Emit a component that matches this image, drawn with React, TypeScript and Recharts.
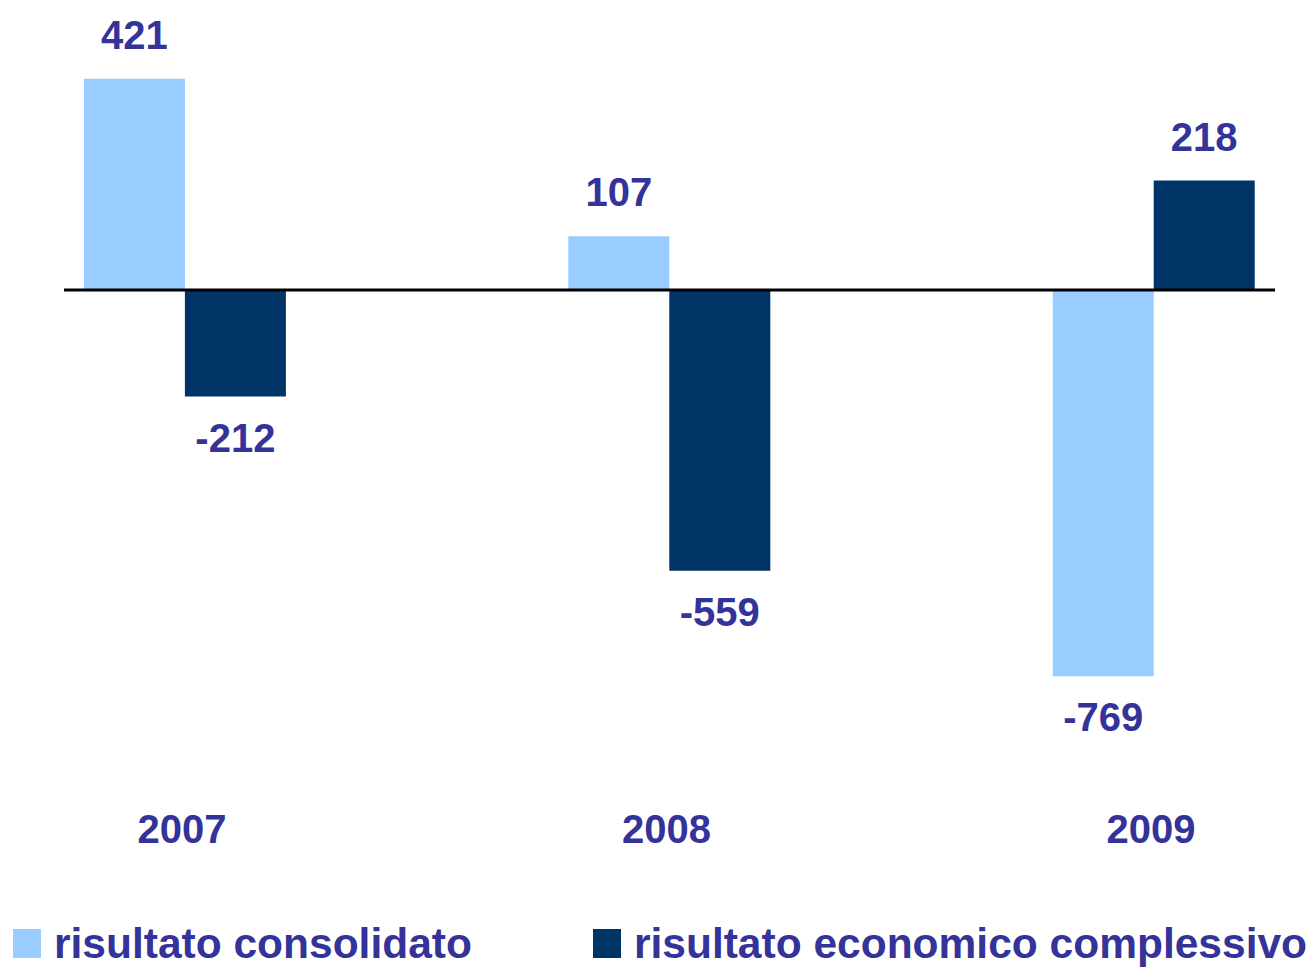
import { BarChart, Bar, XAxis, YAxis, ReferenceLine, LabelList, Legend } from 'recharts'

const years = ['2007', '2008', '2009']
const consolidato = [421, 107, -769]
const complessivo = [-212, -559, 218]
const seriesNames = ['risultato consolidato', 'risultato economico complessivo']

const data = years.map((year, i) => ({
  pos: i,
  year,
  consolidato: consolidato[i],
  complessivo: complessivo[i],
}))

const LIGHT = '#99CCFF'
const DARK = '#003366'
const TEXT = '#333399'
const FONT = '"Liberation Sans", Arial, sans-serif'

function ValueLabel(props: any) {
  const x = Number(props.x)
  const y = Number(props.y)
  const width = Number(props.width)
  const height = Number(props.height)
  const value = Number(props.value)
  const top = Math.min(y, y + height)
  const bottom = Math.max(y, y + height)
  // positive values sit above the bar, negative ones below it
  const ty = value >= 0 ? top - 30 : bottom + 55
  return (
    <text x={x + width / 2} y={ty} textAnchor="middle" fill={TEXT}
      fontSize={40} fontWeight="bold" fontFamily={FONT}>
      {value}
    </text>
  )
}

function YearTick(props: any) {
  const { x, y, payload } = props
  return (
    <text x={x - 3} y={y + 93} textAnchor="middle" fill={TEXT}
      fontSize={40} fontWeight="bold" fontFamily={FONT}>
      {years[payload.value]}
    </text>
  )
}

function LegendBox(props: any) {
  const items = props.payload || []
  return (
    <div style={{ display: 'flex', alignItems: 'baseline', fontFamily: FONT, fontWeight: 'bold', fontSize: 42.5, lineHeight: '44px', color: TEXT }}>
      {items.map((it: any, i: number) => (
        <div key={i} style={{ display: 'flex', alignItems: 'baseline', marginLeft: i === 0 ? 13 : 121 }}>
          <span style={{ width: 28, height: 29, background: it.color, marginRight: 13, display: 'inline-block' }} />
          <span style={{ whiteSpace: 'nowrap' }}>{it.value}</span>
        </div>
      ))}
    </div>
  )
}

export default function App() {
  return (
    <div style={{ position: 'absolute', left: 0, top: 0, width: 1313, height: 967, background: '#fff', overflow: 'hidden' }}>
      <BarChart width={1313} height={967} data={data} barSize={101} barGap={0}
        margin={{ top: 39, right: 38, bottom: 0, left: 64 }}>
        <XAxis dataKey="pos" type="number" domain={[-0.25, 2.25]} ticks={[0, 1, 2]}
          axisLine={false} tickLine={false} height={225} tick={<YearTick />} interval={0} />
        <YAxis type="number" domain={[-900, 500]} hide />
        <Legend layout="horizontal" verticalAlign="middle" align="center"
          wrapperStyle={{ top: 922, left: 0, width: 1313, height: 44 }} content={<LegendBox />} />
        <Bar dataKey="consolidato" name={seriesNames[0]} fill={LIGHT} isAnimationActive={false}>
          <LabelList dataKey="consolidato" content={<ValueLabel />} />
        </Bar>
        <Bar dataKey="complessivo" name={seriesNames[1]} fill={DARK} isAnimationActive={false}>
          <LabelList dataKey="complessivo" content={<ValueLabel />} />
        </Bar>
        <ReferenceLine y={0} stroke="#000" strokeWidth={3} />
      </BarChart>
    </div>
  )
}
